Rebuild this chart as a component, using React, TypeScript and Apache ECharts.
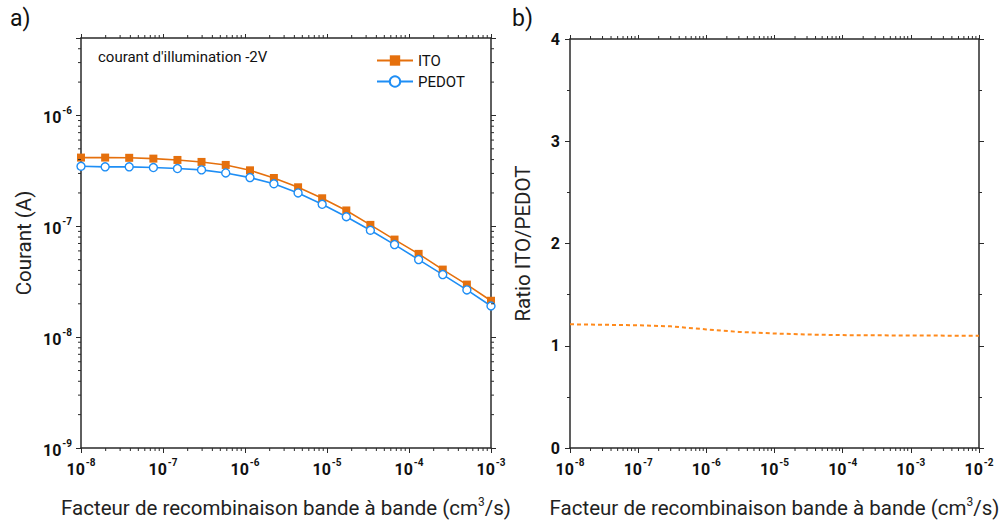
import React, { useEffect, useRef } from 'react';
import * as echarts from 'echarts';

// Recombination factor (cm^3/s) sampled in the left panel
const xRecomb = [1e-8, 1.97e-8, 3.87e-8, 7.63e-8, 1.5e-7, 2.95e-7, 5.82e-7, 1.15e-6, 2.25e-6, 4.44e-6, 8.73e-6, 1.72e-5, 3.38e-5, 6.66e-5, 1.31e-4, 2.58e-4, 5.08e-4, 1e-3];
const itoCurrent = [4.17e-7, 4.17e-7, 4.15e-7, 4.08e-7, 3.97e-7, 3.81e-7, 3.58e-7, 3.2e-7, 2.73e-7, 2.25e-7, 1.79e-7, 1.39e-7, 1.03e-7, 7.59e-8, 5.64e-8, 4.07e-8, 2.98e-8, 2.13e-8];
const pedotCurrent = [3.48e-7, 3.44e-7, 3.44e-7, 3.39e-7, 3.32e-7, 3.23e-7, 3.03e-7, 2.75e-7, 2.42e-7, 2.0e-7, 1.58e-7, 1.22e-7, 9.21e-8, 6.84e-8, 5.01e-8, 3.67e-8, 2.67e-8, 1.91e-8];
// Ratio ITO/PEDOT (right panel)
const ratioX = [1e-8, 1e-7, 3e-7, 1e-6, 3e-6, 1e-5, 3e-5, 1e-4, 1e-3, 1e-2];
const ratioY = [1.21, 1.2, 1.19, 1.16, 1.135, 1.12, 1.11, 1.104, 1.1, 1.098];

const leftXRange = [1e-8, 1e-3];
const leftYRange = [1e-9, 5e-6];
const rightXRange = [1e-8, 1e-2];
const rightYTicks = [0, 1, 2, 3, 4];
const seriesNames = ['ITO', 'PEDOT'];

const AX = '#2a2a2a';
const ITO_COLOR = '#e5700d';
const PEDOT_COLOR = '#1e8ef5';
const RATIO_COLOR = '#ff8a1c';
const FONT = 'Roboto';

function logMinors(lo: number, hi: number): number[] {
  const out: number[] = [];
  for (let k = Math.floor(Math.log10(lo)); k <= Math.ceil(Math.log10(hi)); k++) {
    for (let m = 2; m <= 9; m++) {
      const v = m * Math.pow(10, k);
      if (v > lo * 1.0001 && v < hi * 0.9999) out.push(v);
    }
  }
  return out;
}

const powLabel = (v: number) => {
  const e = Math.log10(v);
  const r = Math.round(e);
  if (Math.abs(e - r) > 1e-6) return '';
  return `{b|10}{s|${r}}`;
};

const powRich = {
  b: { fontSize: 16, fontWeight: 'bold', fontFamily: FONT, color: '#111', lineHeight: 20, verticalAlign: 'bottom' },
  s: { fontSize: 10, fontWeight: 'bold', fontFamily: FONT, color: '#111', lineHeight: 20, verticalAlign: 'top', padding: [0, 0, 0, 1] },
};

const nameRich = {
  n: { fontSize: 20.5, fontFamily: FONT, color: '#222', lineHeight: 22, verticalAlign: 'bottom' },
  s: { fontSize: 12, fontFamily: FONT, color: '#222', lineHeight: 22, verticalAlign: 'top' },
};

const xName = '{n|Facteur de recombinaison bande à bande (cm}{s|3}{n|/s)}';

function axisLine() {
  return { show: true, onZero: false, lineStyle: { color: AX, width: 1.5 } };
}

function xTickSeries(xIdx: number, yIdx: number, vals: number[], yMin: number, yMax: number) {
  return {
    type: 'custom',
    xAxisIndex: xIdx,
    yAxisIndex: yIdx,
    silent: true,
    clip: false,
    z: 5,
    encode: { x: 0, y: 1 },
    data: vals.map((v) => [v, yMin]),
    renderItem: (params: any, api: any) => {
      const v = api.value(0);
      const b = api.coord([v, yMin]);
      const t = api.coord([v, yMax]);
      const st = { stroke: AX, lineWidth: 1 };
      return {
        type: 'group',
        children: [
          { type: 'line', shape: { x1: b[0], y1: b[1], x2: b[0], y2: b[1] + 3 }, style: st },
          { type: 'line', shape: { x1: t[0], y1: t[1], x2: t[0], y2: t[1] - 3 }, style: st },
        ],
      };
    },
  };
}

function yTickSeries(xIdx: number, yIdx: number, vals: number[], xMin: number, xMax: number) {
  return {
    type: 'custom',
    xAxisIndex: xIdx,
    yAxisIndex: yIdx,
    silent: true,
    clip: false,
    z: 5,
    encode: { x: 0, y: 1 },
    data: vals.map((v) => [xMin, v]),
    renderItem: (params: any, api: any) => {
      const v = api.value(1);
      const l = api.coord([xMin, v]);
      const r = api.coord([xMax, v]);
      const st = { stroke: AX, lineWidth: 1 };
      return {
        type: 'group',
        children: [
          { type: 'line', shape: { x1: l[0], y1: l[1], x2: l[0] - 3, y2: l[1] }, style: st },
          { type: 'line', shape: { x1: r[0], y1: r[1], x2: r[0] + 3, y2: r[1] }, style: st },
        ],
      };
    },
  };
}

export default function App() {
  const ref = useRef<HTMLDivElement>(null);
  useEffect(() => {
    if (!ref.current) return;
    const chart = echarts.init(ref.current, undefined, { renderer: 'svg' });
    const option: any = {
      animation: false,
      backgroundColor: '#fff',
      textStyle: { fontFamily: FONT },
      grid: [
        { left: 81, top: 38, width: 410, height: 410, outerBoundsMode: 'none', containLabel: false },
        { left: 570, top: 39, width: 409, height: 409, outerBoundsMode: 'none', containLabel: false },
      ],
      legend: {
        data: seriesNames,
        orient: 'vertical',
        left: 376,
        top: 53,
        itemWidth: 36,
        itemHeight: 13,
        itemGap: 6,
        padding: 0,
        textStyle: { fontSize: 15, fontFamily: FONT, color: '#111' },
      },
      xAxis: [
        {
          gridIndex: 0, type: 'log', min: leftXRange[0], max: leftXRange[1], position: 'bottom',
          axisLine: axisLine(), axisTick: { show: true, length: 5, lineStyle: { color: AX } },
          axisLabel: { formatter: powLabel, rich: powRich, margin: 9 },
          splitLine: { show: false },
          name: xName, nameLocation: 'middle', nameGap: 48, nameTextStyle: { rich: nameRich },
        },
        {
          gridIndex: 0, type: 'log', min: leftXRange[0], max: leftXRange[1], position: 'top',
          axisLine: axisLine(), axisTick: { show: true, length: 4, lineStyle: { color: AX } },
          axisLabel: { show: false }, splitLine: { show: false },
        },
        {
          gridIndex: 1, type: 'log', min: rightXRange[0], max: rightXRange[1], position: 'bottom',
          axisLine: axisLine(), axisTick: { show: true, length: 5, lineStyle: { color: AX } },
          axisLabel: { formatter: powLabel, rich: powRich, margin: 9 },
          splitLine: { show: false },
          name: xName, nameLocation: 'middle', nameGap: 48, nameTextStyle: { rich: nameRich },
        },
        {
          gridIndex: 1, type: 'log', min: rightXRange[0], max: rightXRange[1], position: 'top',
          axisLine: axisLine(), axisTick: { show: true, length: 4, lineStyle: { color: AX } },
          axisLabel: { show: false }, splitLine: { show: false },
        },
      ],
      yAxis: [
        {
          gridIndex: 0, type: 'log', min: leftYRange[0], max: leftYRange[1], position: 'left',
          axisLine: axisLine(), axisTick: { show: true, length: 5, lineStyle: { color: AX } },
          axisLabel: { formatter: powLabel, rich: powRich, margin: 9 },
          splitLine: { show: false },
          name: 'Courant (A)', nameLocation: 'middle', nameGap: 47,
          nameTextStyle: { fontSize: 20.5, fontFamily: FONT, color: '#222' },
        },
        {
          gridIndex: 0, type: 'log', min: leftYRange[0], max: leftYRange[1], position: 'right',
          axisLine: axisLine(), axisTick: { show: true, length: 5, lineStyle: { color: AX } },
          axisLabel: { show: false }, splitLine: { show: false },
        },
        {
          gridIndex: 1, type: 'value', min: rightYTicks[0], max: rightYTicks[rightYTicks.length - 1], interval: 1, position: 'left',
          axisLine: axisLine(), axisTick: { show: true, length: 5, lineStyle: { color: AX } },
          minorTick: { show: true, splitNumber: 2, length: 3, lineStyle: { color: AX } },
          axisLabel: { margin: 10, fontSize: 16, fontWeight: 'bold', fontFamily: FONT, color: '#111' },
          splitLine: { show: false },
          name: 'Ratio ITO/PEDOT', nameLocation: 'middle', nameGap: 37,
          nameTextStyle: { fontSize: 20.5, fontFamily: FONT, color: '#222' },
        },
        {
          gridIndex: 1, type: 'value', min: rightYTicks[0], max: rightYTicks[rightYTicks.length - 1], interval: 1, position: 'right',
          axisLine: axisLine(), axisTick: { show: true, length: 5, lineStyle: { color: AX } },
          minorTick: { show: true, splitNumber: 2, length: 3, lineStyle: { color: AX } },
          axisLabel: { show: false }, splitLine: { show: false },
        },
      ],
      graphic: [
        { type: 'text', left: 10, top: 7, style: { text: 'a)', fontSize: 23, fontFamily: FONT, fill: '#111' } },
        { type: 'text', left: 512, top: 7, style: { text: 'b)', fontSize: 23, fontFamily: FONT, fill: '#111' } },
        { type: 'text', left: 98, top: 49, style: { text: "courant d'illumination -2V", fontSize: 15, fontFamily: FONT, fill: '#111' } },
      ],
      series: [
        {
          name: 'ITO', type: 'line', xAxisIndex: 0, yAxisIndex: 0,
          data: xRecomb.map((x, i) => [x, itoCurrent[i]]),
          symbol: 'rect', symbolSize: 8,
          itemStyle: { color: ITO_COLOR },
          lineStyle: { color: ITO_COLOR, width: 1.6 },
          z: 3,
        },
        {
          name: 'PEDOT', type: 'line', xAxisIndex: 0, yAxisIndex: 0,
          data: xRecomb.map((x, i) => [x, pedotCurrent[i]]),
          symbol: 'circle', symbolSize: 8, showAllSymbol: true,
          itemStyle: { color: '#fff', borderColor: PEDOT_COLOR, borderWidth: 1.4 },
          lineStyle: { color: PEDOT_COLOR, width: 1.6 },
          z: 3,
        },
        {
          name: 'ratio', type: 'line', xAxisIndex: 2, yAxisIndex: 2,
          data: ratioX.map((x, i) => [x, ratioY[i]]),
          symbol: 'none',
          lineStyle: { color: RATIO_COLOR, width: 2, type: [4, 3] },
        },
        xTickSeries(0, 0, logMinors(leftXRange[0], leftXRange[1]), leftYRange[0], leftYRange[1]),
        yTickSeries(0, 0, logMinors(leftYRange[0], leftYRange[1]), leftXRange[0], leftXRange[1]),
        xTickSeries(2, 2, logMinors(rightXRange[0], rightXRange[1]), rightYTicks[0], rightYTicks[rightYTicks.length - 1]),
      ],
    };
    chart.setOption(option);
    return () => chart.dispose();
  }, []);
  return <div ref={ref} style={{ width: 1003, height: 523, position: 'absolute', left: 0, top: 0 }} />;
}
